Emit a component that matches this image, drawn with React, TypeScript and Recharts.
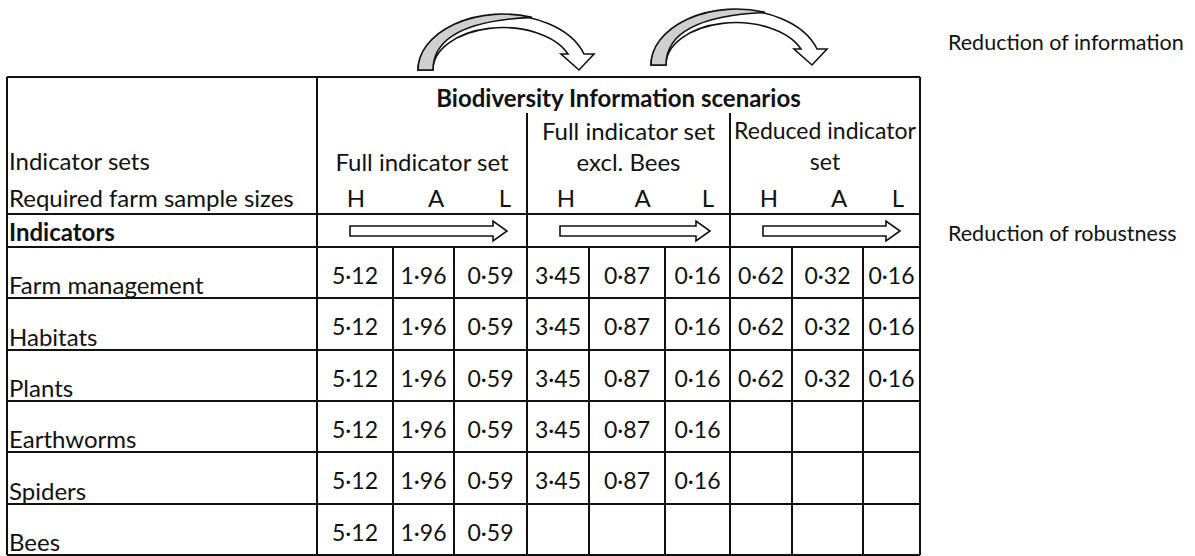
import { ComposedChart, ReferenceLine, Scatter, XAxis, YAxis } from 'recharts';

// indicators (rows) and scenario groups
const indicators = ['Farm management', 'Habitats', 'Plants', 'Earthworms', 'Spiders', 'Bees'];
const scenarioTitles = [['Full indicator set'], ['Full indicator set', 'excl. Bees'], ['Reduced indicator', 'set']];
const sampleSizes = ['H', 'A', 'L'];

// required farm sample sizes per scenario (H, A, L)
const fullSetValues = [5.12, 1.96, 0.59];
const exclBeesValues = [3.45, 0.87, 0.16];
const reducedValues = [0.62, 0.32, 0.16];

// which indicators each scenario keeps
const fullSetIndicators = ['Farm management', 'Habitats', 'Plants', 'Earthworms', 'Spiders', 'Bees'];
const exclBeesIndicators = ['Farm management', 'Habitats', 'Plants', 'Earthworms', 'Spiders'];
const reducedIndicators = ['Farm management', 'Habitats', 'Plants'];

// layout (pixels)
const W = 1195;
const H = 556;
const colEdges = [7, 317, 393, 454, 527, 589, 665, 730, 792, 863, 920];
const rowEdges = [247, 298, 350, 401, 452, 504, 555];
const TOP = 77;
const SUB_TOP = 113;
const HEAD_BOTTOM = 214;
const FONT = 'Lato, "Open Sans", sans-serif';
const INK = '#111';

const fmt = (v: number) => v.toFixed(2).replace('.', '·');
const colCenter = (c: number) => (colEdges[c] + colEdges[c + 1]) / 2;
const groupX0 = (g: number) => colEdges[1 + g * 3];
const groupX1 = (g: number) => colEdges[4 + g * 3];

interface Txt {
  x: number;
  y: number;
  label: string;
  anchor?: 'start' | 'middle' | 'end';
  bold?: boolean;
  size?: number;
}

const setValues = [fullSetValues, exclBeesValues, reducedValues];
const setIndicators = [fullSetIndicators, exclBeesIndicators, reducedIndicators];

const cellTexts: Txt[] = [];
setValues.forEach((vals, g) => {
  indicators.forEach((name, r) => {
    if (!setIndicators[g].includes(name)) return;
    vals.forEach((v, k) => {
      cellTexts.push({ x: colCenter(1 + g * 3 + k), y: (rowEdges[r] + rowEdges[r + 1]) / 2 + 2, label: fmt(v), size: 23 });
    });
  });
});

const labelTexts: Txt[] = [
  { x: 9, y: 160, label: 'Indicator sets', anchor: 'start' },
  { x: 9, y: 197, label: 'Required farm sample sizes', anchor: 'start' },
  { x: 9, y: 231, label: 'Indicators', anchor: 'start', bold: true },
  { x: (colEdges[1] + colEdges[10]) / 2, y: 97, label: 'Biodiversity Information scenarios', bold: true },
  { x: 948, y: 42, label: 'Reduction of information', anchor: 'start', size: 21.5 },
  { x: 948, y: 233, label: 'Reduction of robustness', anchor: 'start', size: 21.5 },
  ...indicators.map((name, r) => ({ x: 9, y: rowEdges[r + 1] - 14, label: name, anchor: 'start' as const })),
];
scenarioTitles.forEach((lines, g) => {
  const cx = (groupX0(g) + groupX1(g)) / 2;
  lines.forEach((line, i) =>
    labelTexts.push({ x: cx, y: 161 - (lines.length - 1 - i) * 31, label: line, size: g === 2 ? 23 : 24 }),
  );
  const pos = [groupX0(g) + 39, cx + 14, groupX1(g) - 22];
  sampleSizes.forEach((s, k) => labelTexts.push({ x: pos[k], y: 197, label: s }));
});

// straight "robustness" arrows in the Indicators row, one per scenario
const blockArrows = scenarioTitles.map((_, g) => ({ x: groupX0(g) + 33, y: 231, len: groupX1(g) - groupX0(g) - 53 }));
// curved "information" arrows between scenarios (anchored at the left foot)
const curvedArrows = [
  { x: 418, y: 70 },
  { x: 651, y: 65 },
];

// grid segments
type Seg = [{ x: number; y: number }, { x: number; y: number }];
const segments: Seg[] = [
  [{ x: colEdges[0], y: TOP }, { x: colEdges[10], y: TOP }],
  [{ x: colEdges[0], y: HEAD_BOTTOM }, { x: colEdges[10], y: HEAD_BOTTOM }],
  ...rowEdges.map((y): Seg => [{ x: colEdges[0], y }, { x: colEdges[10], y }]),
  [{ x: colEdges[0], y: TOP }, { x: colEdges[0], y: rowEdges[6] }],
  [{ x: colEdges[1], y: TOP }, { x: colEdges[1], y: rowEdges[6] }],
  [{ x: colEdges[10], y: TOP }, { x: colEdges[10], y: rowEdges[6] }],
  [{ x: colEdges[4], y: SUB_TOP }, { x: colEdges[4], y: rowEdges[6] }],
  [{ x: colEdges[7], y: SUB_TOP }, { x: colEdges[7], y: rowEdges[6] }],
  ...[2, 3, 5, 6, 8, 9].map((c): Seg => [{ x: colEdges[c], y: rowEdges[0] }, { x: colEdges[c], y: rowEdges[6] }]),
];

function TextShape(props: any) {
  const p = props.payload as Txt;
  return (
    <text
      x={props.cx}
      y={props.cy}
      textAnchor={p.anchor ?? 'middle'}
      dominantBaseline="central"
      fontFamily={FONT}
      fontSize={p.size ?? 24}
      fontWeight={p.bold ? 700 : 400}
      fill={INK}
    >
      {p.label}
    </text>
  );
}

function BlockArrow(props: any) {
  const { cx, cy } = props;
  const L = props.payload.len;
  const d = `M0,-5 L${L - 14},-5 L${L - 14},-10 L${L},0 L${L - 14},10 L${L - 14},5 L0,5 Z`;
  return <path d={d} transform={`translate(${cx},${cy})`} fill="#fff" stroke={INK} strokeWidth={1.6} />;
}

function CurvedArrow(props: any) {
  const { cx, cy } = props;
  const body = 'M0,0 A85,56 0 0 1 166,-16 L176,-16 L161,0 L143,-16 L150,-16 A70,42 0 0 0 15,0 Z';
  const shade = 'M0,0 A85,56 0 0 1 114,-52.6 C55,-50 15,-35 15,0 Z';
  return (
    <g transform={`translate(${cx},${cy})`}>
      <path d={body} fill="#fff" stroke={INK} strokeWidth={1.6} />
      <path d={shade} fill="#cfcfcf" stroke={INK} strokeWidth={1.6} />
    </g>
  );
}

export default function App() {
  return (
    <div style={{ position: 'absolute', left: 0, top: 0, width: W, height: H, background: '#fff' }}>
      <ComposedChart width={W} height={H} margin={{ top: 0, right: 0, bottom: 0, left: 0 }}>
        <XAxis type="number" dataKey="x" domain={[0, W]} allowDataOverflow hide />
        <YAxis type="number" dataKey="y" domain={[0, H]} reversed allowDataOverflow hide />
        {segments.map((s, i) => (
          <ReferenceLine key={i} segment={s} stroke={INK} strokeWidth={2} />
        ))}
        <Scatter data={curvedArrows} shape={CurvedArrow} isAnimationActive={false} />
        <Scatter data={blockArrows} shape={BlockArrow} isAnimationActive={false} />
        <Scatter data={labelTexts} shape={TextShape} isAnimationActive={false} />
        <Scatter data={cellTexts} shape={TextShape} isAnimationActive={false} />
      </ComposedChart>
    </div>
  );
}
